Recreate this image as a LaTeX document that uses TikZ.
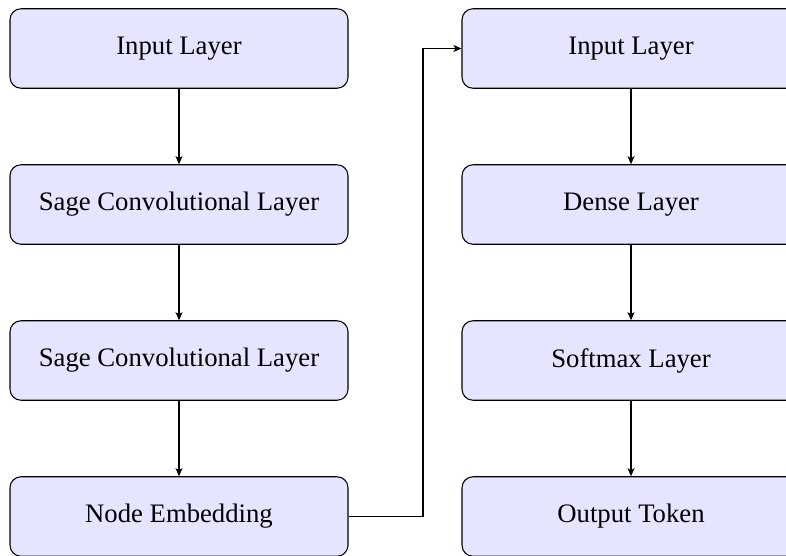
\documentclass[tikz,border=0pt]{standalone}
\usepackage{fontspec}
\setmainfont{Liberation Serif}
\usetikzlibrary{arrows.meta}
\begin{document}
\begin{tikzpicture}[x=1pt,y=-1pt,
  layer/.style={draw=black, fill=blue!10, rounded corners=11pt, line width=1.07pt,
    minimum width=338pt, minimum height=79.5pt, inner sep=0pt,
    font=\fontsize{26.7}{32}\selectfont},
  link/.style={-{Stealth[length=8pt,width=7pt,inset=2pt]}, line width=1.07pt, black}]
\useasboundingbox (0,0) rectangle (786,556);
\clip (0,0) rectangle (786,556);
% graph encoder column
\node[layer] (in1) at (179,48.5) {Input Layer};
\node[layer] (sc1) at (179,204.5) {Sage Convolutional Layer};
\node[layer] (sc2) at (179,360.5) {Sage Convolutional Layer};
\node[layer] (emb) at (179,516.5) {Node Embedding};
% token decoder column
\node[layer] (in2) at (631,48.5) {Input Layer};
\node[layer] (den) at (631,204.5) {Dense Layer};
\node[layer] (smx) at (631,360.5) {Softmax Layer};
\node[layer] (out) at (631,516.5) {Output Token};
\coordinate (jog) at (423,0);
\draw[link] (in1) -- (sc1);
\draw[link] (sc1) -- (sc2);
\draw[link] (sc2) -- (emb);
\draw[link] (in2) -- (den);
\draw[link] (den) -- (smx);
\draw[link] (smx) -- (out);
\draw[link] (emb.east) -| (jog |- in2.west) -- (in2.west);
\end{tikzpicture}
\end{document}
